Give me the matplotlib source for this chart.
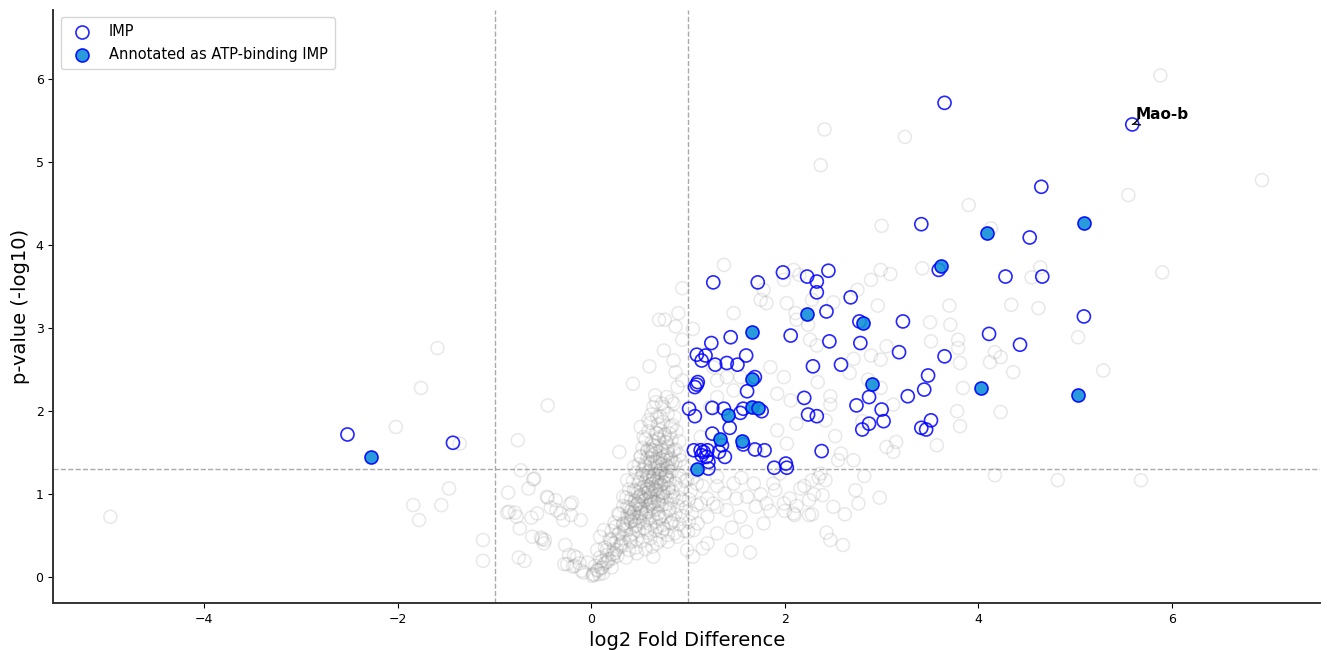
import matplotlib
matplotlib.use("Agg")
import matplotlib.pyplot as plt

# background proteins (grey)
gray_x = [
    -4.97, -2.02, -1.76, -1.59, -1.84, -1.78, -1.55, -1.47, -1.36, -1.12, -1.12,
    -0.76, -0.45, -0.73, -0.86, -0.87, -0.79, -0.74, -0.75, -0.69, -0.65, -0.59,
    -0.56, -0.52, -0.48, -0.45, -0.42, -0.37, -0.36, -0.29, -0.22, -0.21, -0.11,
    -0.62, -0.60, -0.46, -0.20, -0.32, -0.85, -0.77, -0.61, -0.51, -0.49,
    -0.27, -0.23, -0.17, -0.10, 0.01, 0.08, 0.11, 0.16, 0.20, 0.13, 0.25, 0.28,
    0.37, 0.33, 0.44, 0.37, 0.44, 0.51, 0.54, 0.51, 0.59, 0.64, 0.68, 0.75, 0.78,
    0.85, 0.89, 0.94, 0.87, 0.85, 0.92, 0.99, 0.94, 0.82, 0.89, 0.68, 0.64, 0.47,
    0.40, 0.58, 0.71, 0.78, 0.61, 0.51, 0.68, 0.78, 0.71, 0.64, 0.75, 0.82, 0.68,
    0.58, 0.58, 0.51, 0.42, 0.33, 0.23, 0.09, 0.06, -0.04, -0.15, -0.25,
    0.43, 0.60, 0.66, 0.85, 0.94, 1.37, 0.75, 0.70, 0.76, 0.90, 0.87, 1.05, 0.94,
    0.29, 1.13, 1.09, 1.13, 1.20, 1.30, 1.45, 1.64, 1.06, 0.99, 1.20, 1.26, 1.40,
    1.47, 1.61, 1.68, 1.78, 1.54, 1.88, 1.99, 2.09, 1.81, 1.30, 1.38, 1.23, 1.30,
    1.47, 1.54, 1.40, 1.30, 1.26, 1.47, 1.75, 1.81, 1.78, 2.02, 2.09, 1.99, 2.12,
    1.85, 1.99, 1.92, 2.06, 2.12, 1.92, 2.02, 1.71,
    5.88, 6.93, 5.55, 3.90, 4.13, 3.00, 3.24, 2.41, 2.37, 5.90, 3.09, 3.42, 4.64,
    4.55, 4.34, 4.62, 3.70, 3.50, 3.71, 2.96, 3.79, 3.51, 3.05, 5.03, 5.29, 4.36,
    4.23, 4.17, 4.12, 3.81, 3.79, 3.84, 4.23, 4.17, 3.78, 3.81, 3.57, 4.82, 5.68,
    3.12, 3.05, 3.15, 2.80, 2.82, 2.73, 2.76, 2.98, 2.62, 2.60, 2.47, 2.43, 2.28,
    2.12, 2.16, 2.28, 2.42, 2.58, 2.71, 2.52, 2.55, 2.37, 2.39, 2.25, 3.12, 2.99,
    2.86, 2.67, 2.71, 2.89, 2.99, 2.47, 2.47, 2.42, 2.34, 2.33, 2.26, 2.24, 2.11,
    2.28, 2.50, 2.75, 2.89, 2.99, 2.15,
    1.05, 1.15, 1.00, 1.10, 1.20, 1.05, 1.15, 1.30, 1.30, 1.45, 1.50, 1.55, 1.60,
    1.70, 1.75, 1.85, 1.90, 1.95, 2.05, 2.10, 2.00, 2.20, 2.25, 2.30, 2.35, 2.50,
    -0.08, 0.02, 0.06, 0.12, -0.28, -0.19, -0.12, 0.04, 0.13, 0.21, -0.18, 0.09,
    0.16, 0.22, 0.27, 0.36, 0.14, 0.23, 0.31, 0.39, 0.46, 0.56, 0.63, 0.19, 0.26,
    0.33, 0.41, 0.47, 0.53, 0.61, 0.71, 0.79, 0.21, 0.29, 0.36, 0.43, 0.49, 0.58,
    0.66, 0.73, 0.86, 0.96, 0.24, 0.33, 0.41, 0.46, 0.53, 0.61, 0.67, 0.74, 0.83,
    0.91, 1.01, 0.29, 0.37, 0.44, 0.49, 0.56, 0.63, 0.69, 0.77, 0.87, 0.94, 1.04,
    0.33, 0.39, 0.46, 0.51, 0.59, 0.64, 0.73, 0.81, 0.89, 0.98, 1.09, 0.36, 0.41,
    0.49, 0.56, 0.61, 0.69, 0.76, 0.83, 0.91, 1.01, 0.39, 0.46, 0.51, 0.59, 0.66,
    0.71, 0.79, 0.84, 0.93, 1.03, 0.43, 0.49, 0.57, 0.63, 0.67, 0.75, 0.81, 0.87,
    0.97, 0.46, 0.53, 0.59, 0.64, 0.71, 0.77, 0.83, 0.91, 0.49, 0.56, 0.61, 0.69,
    0.73, 0.79, 0.87, 0.96, 0.51, 0.58, 0.63, 0.71, 0.77, 0.82, 0.91, 0.53, 0.61,
    0.67, 0.73, 0.79, 0.87, 0.56, 0.63, 0.69, 0.77, 0.83, 0.91, 0.59, 0.67, 0.71,
    0.81, 0.88, 0.61, 0.69, 0.74, 0.84, 0.62, 0.71, 0.79, 0.86, 0.67, 0.73, 0.83,
    0.55, 0.65, 0.72, 0.60, 0.66, 0.80, 0.70, 0.76, 0.62, 0.68, 0.74, 0.57, 0.64,
    0.79, 0.53, 0.69, 0.85, 0.48, 0.66, 0.75, 0.44, 0.58, 0.79, 0.40, 0.62, 0.72,
    # extra density in the core
    0.35, 0.41, 0.47, 0.52, 0.58, 0.63, 0.69, 0.74, 0.38, 0.44, 0.50, 0.55, 0.61,
    0.66, 0.72, 0.78, 0.42, 0.48, 0.53, 0.59, 0.64, 0.70, 0.76, 0.81, 0.45, 0.51,
    0.57, 0.62, 0.68, 0.73, 0.79, 0.84, 0.48, 0.54, 0.60, 0.65, 0.71, 0.77, 0.82,
    0.51, 0.57, 0.62, 0.68, 0.74, 0.79, 0.55, 0.61, 0.66, 0.72, 0.78, 0.58, 0.64,
    0.70, 0.76, 0.03, 0.07, 0.11, 0.15, 0.18, 0.22, 0.26, 0.30, 0.10, 0.17, 0.24,
    0.31, 0.28, 0.34, 0.40, 0.45, 0.50, 0.55, 0.60, 0.65, 0.70, 0.75, 0.80, 0.85,
]
gray_y = [
    0.73, 1.81, 2.28, 2.76, 0.87, 0.69, 0.87, 1.07, 1.61, 0.45, 0.20,
    1.65, 2.07, 1.29, 1.02, 0.78, 0.78, 0.59, 0.24, 0.20, 1.07, 1.19,
    0.77, 0.48, 0.45, 0.96, 0.84, 0.93, 0.81, 0.69, 0.88, 0.75, 0.69,
    0.72, 1.18, 0.97, 0.90, 0.77, 0.79, 0.73, 0.49, 0.46, 0.41,
    0.39, 0.27, 0.14, 0.08, 0.02, 0.04, 0.20, 0.33, 0.45, 0.57, 0.61, 0.77,
    0.85, 0.97, 1.05, 1.17, 1.33, 1.45, 1.69, 1.81, 1.89, 2.05, 1.93, 2.05, 2.17,
    2.09, 2.29, 2.37, 2.47, 1.53, 1.41, 1.17, 0.93, 0.65, 0.49, 0.41, 0.25, 0.29,
    0.45, 0.57, 0.73, 0.89, 0.89, 0.77, 1.05, 1.21, 1.37, 1.53, 1.69, 1.81, 1.73,
    1.53, 1.21, 0.97, 0.73, 0.65, 0.41, 0.49, 0.33, 0.18, 0.24, 0.16,
    2.33, 2.54, 2.19, 2.61, 3.48, 3.76, 2.73, 3.10, 3.10, 3.18, 3.02, 2.99, 2.86,
    1.51, 1.69, 1.13, 0.89, 0.73, 0.53, 0.33, 0.30, 0.57, 0.33, 0.41, 0.89, 0.81,
    1.13, 0.97, 1.13, 0.65, 0.73, 1.13, 0.89, 0.77, 0.89, 1.21, 1.01, 2.05, 2.17,
    2.25, 2.41, 2.41, 2.37, 2.53, 3.18, 3.34, 3.30, 3.46, 3.30, 3.70, 3.58, 3.10,
    2.53, 2.41, 2.21, 2.13, 1.85, 1.77, 1.61, 1.53,
    6.04, 4.78, 4.60, 4.48, 4.20, 4.23, 5.30, 5.39, 4.96, 3.67, 3.65, 3.72, 3.73,
    3.61, 3.28, 3.24, 3.27, 3.07, 3.04, 3.27, 2.86, 2.84, 2.78, 2.89, 2.49, 2.47,
    2.65, 2.71, 2.59, 2.58, 2.76, 2.28, 1.99, 1.23, 2.00, 1.82, 1.59, 1.17, 1.17,
    1.51, 1.57, 1.63, 1.88, 1.22, 1.05, 0.89, 0.96, 0.76, 0.39, 0.45, 0.54, 0.76,
    0.86, 1.07, 1.17, 1.17, 1.49, 1.41, 1.70, 1.41, 1.25, 0.99, 0.93, 2.08, 2.28,
    2.38, 2.46, 2.63, 2.67, 2.62, 2.18, 2.08, 1.89, 2.35, 2.79, 2.86, 3.04, 3.18,
    3.34, 3.31, 3.46, 3.58, 3.70, 3.64,
    0.25, 0.35, 0.55, 0.65, 0.95, 1.20, 1.10, 0.85, 1.10, 0.60, 0.95, 1.20, 0.55,
    0.85, 1.00, 0.80, 1.05, 1.25, 0.95, 0.75, 0.80, 1.10, 0.75, 1.00, 1.20, 0.85,
    0.06, 0.04, 0.09, 0.05, 0.16, 0.13, 0.17, 0.14, 0.16, 0.12, 0.26, 0.24,
    0.27, 0.23, 0.26, 0.24, 0.36, 0.34, 0.37, 0.33, 0.36, 0.34, 0.37, 0.46, 0.44,
    0.47, 0.43, 0.46, 0.44, 0.47, 0.45, 0.43, 0.56, 0.54, 0.57, 0.53, 0.56, 0.54,
    0.57, 0.55, 0.53, 0.56, 0.66, 0.64, 0.67, 0.63, 0.66, 0.64, 0.67, 0.63, 0.66,
    0.64, 0.67, 0.76, 0.74, 0.77, 0.73, 0.76, 0.74, 0.77, 0.73, 0.76, 0.74, 0.77,
    0.86, 0.84, 0.87, 0.83, 0.86, 0.84, 0.87, 0.83, 0.86, 0.84, 0.87, 0.96, 0.94,
    0.97, 0.93, 0.96, 0.94, 0.97, 0.93, 0.96, 0.94, 1.06, 1.04, 1.07, 1.03, 1.06,
    1.04, 1.07, 1.03, 1.06, 1.04, 1.16, 1.14, 1.17, 1.13, 1.16, 1.14, 1.17, 1.13,
    1.16, 1.26, 1.24, 1.27, 1.23, 1.26, 1.24, 1.27, 1.23, 1.36, 1.34, 1.37, 1.33,
    1.36, 1.34, 1.37, 1.33, 1.46, 1.44, 1.47, 1.43, 1.46, 1.44, 1.47, 1.56, 1.54,
    1.57, 1.53, 1.56, 1.54, 1.66, 1.64, 1.67, 1.63, 1.66, 1.64, 1.76, 1.74, 1.77,
    1.73, 1.76, 1.86, 1.84, 1.87, 1.83, 1.96, 1.94, 1.97, 1.93, 2.11, 2.09, 2.12,
    1.01, 0.91, 1.11, 1.21, 1.31, 0.81, 0.71, 1.41, 1.51, 0.61, 1.01, 0.79, 1.19,
    0.51, 1.29, 0.99, 0.69, 0.88, 1.39, 0.59, 0.69, 1.09, 1.49, 0.79, 0.91, 1.29,
    0.62, 0.68, 0.72, 0.78, 0.82, 0.88, 0.92, 0.98, 0.71, 0.79, 0.86, 0.93, 0.99,
    1.05, 1.12, 1.18, 0.82, 0.89, 0.96, 1.02, 1.09, 1.15, 1.22, 1.28, 0.92, 0.99,
    1.06, 1.12, 1.19, 1.25, 1.32, 1.38, 1.02, 1.09, 1.16, 1.22, 1.29, 1.35, 1.42,
    1.19, 1.26, 1.32, 1.39, 1.45, 1.52, 1.36, 1.43, 1.49, 1.56, 1.62, 1.52, 1.59,
    1.66, 1.72, 0.03, 0.08, 0.12, 0.18, 0.22, 0.28, 0.33, 0.39, 0.11, 0.19, 0.29,
    0.41, 0.52, 0.58, 0.51, 0.62, 0.68, 0.59, 0.71, 0.81, 0.88, 1.02, 1.08, 0.97,
]

# integral membrane proteins (open blue)
imp_x = [
    -2.52, -1.43, 3.65, 5.59, 4.65, 3.41, 4.53, 3.59, 4.28, 4.66, 5.09,
    1.26, 1.72, 1.98, 2.23, 2.33, 2.45, 2.33, 2.68, 2.43, 2.77, 3.22,
    2.06, 1.44, 1.24, 2.46, 2.78, 4.11, 4.43,
    1.09, 1.18, 1.14, 1.28, 1.40, 1.51, 1.60, 2.29, 2.58, 3.18, 3.65,
    1.69, 1.07, 1.09, 1.10, 3.48, 1.61, 2.20, 2.87, 3.27, 3.44,
    2.74, 1.01, 1.07, 1.25, 1.37, 1.43, 1.54, 1.57, 1.76, 2.24, 2.33, 3.00,
    2.87, 2.80, 3.02, 3.51, 3.41, 3.46,
    1.25, 1.35, 1.57, 1.06, 1.13, 1.16, 1.20, 1.14, 1.19, 1.21, 1.21, 1.32,
    1.38, 1.69, 1.79, 2.38, 1.89, 2.01, 2.02,
]
imp_y = [
    1.72, 1.62, 5.71, 5.45, 4.70, 4.25, 4.09, 3.70, 3.62, 3.62, 3.14,
    3.55, 3.55, 3.67, 3.62, 3.56, 3.69, 3.43, 3.37, 3.20, 3.08, 3.08,
    2.91, 2.89, 2.82, 2.84, 2.82, 2.93, 2.80,
    2.68, 2.67, 2.61, 2.56, 2.58, 2.56, 2.67, 2.54, 2.56, 2.71, 2.66,
    2.41, 2.29, 2.32, 2.35, 2.43, 2.24, 2.16, 2.17, 2.18, 2.26,
    2.07, 2.03, 1.94, 2.04, 2.03, 1.80, 1.98, 2.03, 2.00, 1.96, 1.94, 2.02,
    1.85, 1.78, 1.88, 1.89, 1.80, 1.78,
    1.73, 1.59, 1.60, 1.53, 1.53, 1.51, 1.53, 1.47, 1.45, 1.39, 1.31, 1.51,
    1.45, 1.54, 1.53, 1.52, 1.32, 1.37, 1.32,
]

# IMPs annotated as ATP-binding (filled)
atp_x = [-2.28, 5.09, 4.09, 3.61, 2.23, 2.81, 1.66, 1.66, 2.90, 1.41, 1.66,
         1.72, 4.03, 5.03, 1.33, 1.56, 1.09]
atp_y = [1.45, 4.27, 4.14, 3.75, 3.17, 3.06, 2.95, 2.39, 2.33, 1.96, 2.05,
         2.04, 2.28, 2.20, 1.67, 1.64, 1.31]

label_name = 'Mao-b'
label_xy = (5.59, 5.45)

fc_cut = 1.0
p_cut = 1.3

fig = plt.figure(figsize=(13.32, 6.5), dpi=100)
ax = fig.add_axes([0.040, 0.072, 0.951, 0.913])

ax.scatter(gray_x, gray_y, s=88, facecolors='none', edgecolors='gray',
           alpha=0.18, linewidths=1.1, zorder=1)
ax.scatter(imp_x, imp_y, s=88, facecolors='none', edgecolors='blue',
           linewidths=1.2, alpha=0.85, label='IMP', zorder=3)
ax.scatter(atp_x, atp_y, s=88, facecolors='#1190d6', edgecolors='blue',
           linewidths=1.2, alpha=0.9, label='Annotated as ATP-binding IMP', zorder=4)

ax.axvline(-fc_cut, color='#aaaaaa', ls='--', lw=1, zorder=0)
ax.axvline(fc_cut, color='#aaaaaa', ls='--', lw=1, zorder=0)
ax.axhline(p_cut, color='#aaaaaa', ls='--', lw=1, zorder=0)

ax.annotate(label_name, xy=label_xy, xytext=(label_xy[0] + 0.03, label_xy[1] + 0.03),
            fontsize=11, fontweight='bold', ha='left', va='bottom',
            arrowprops=dict(arrowstyle='->', color='black', lw=1))

ax.set_xlim(-5.56, 7.53)
ax.set_ylim(-0.31, 6.83)
ax.set_xticks([-4, -2, 0, 2, 4, 6])
ax.set_yticks([0, 1, 2, 3, 4, 5, 6])
ax.tick_params(labelsize=9)
ax.set_xlabel('log2 Fold Difference', fontsize=14)
ax.set_ylabel('p-value (-log10)', fontsize=14)

for side in ['top', 'right']:
    ax.spines[side].set_visible(False)
for side in ['left', 'bottom']:
    ax.spines[side].set_color('#333333')
    ax.spines[side].set_linewidth(1.4)

ax.legend(loc='upper left', fontsize=10.5, frameon=True, borderpad=0.5)

fig.savefig('out.png', dpi=100)
